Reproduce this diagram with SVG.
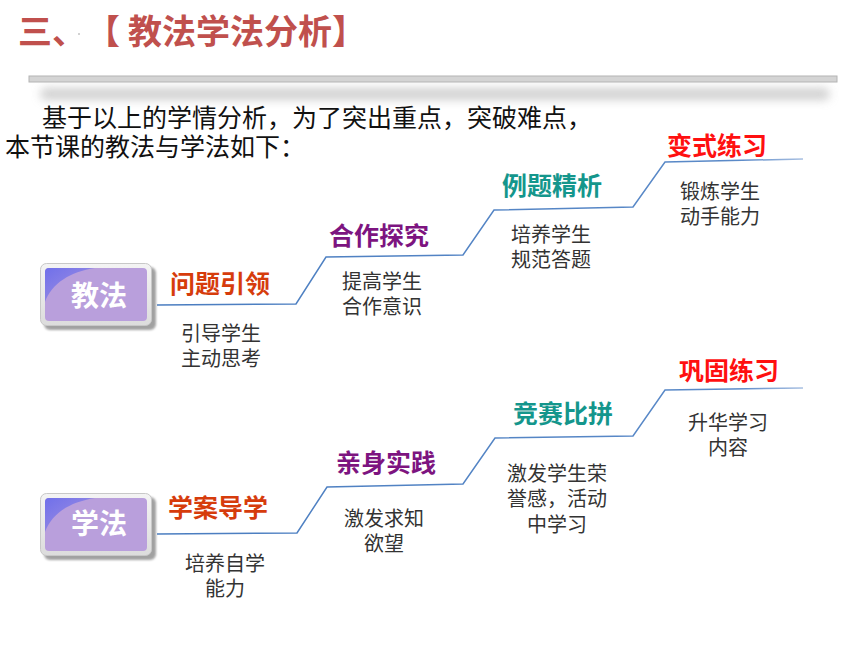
<svg xmlns="http://www.w3.org/2000/svg" width="860" height="645" viewBox="0 0 860 645">
  <defs>
    <filter id="blur" x="-5%" y="-100%" width="110%" height="300%">
      <feGaussianBlur stdDeviation="5"/>
    </filter>
    <filter id="sh" x="-10%" y="-10%" width="130%" height="130%">
      <feGaussianBlur stdDeviation="1.2"/>
    </filter>
    <linearGradient id="frame" x1="0" y1="0" x2="0" y2="1">
      <stop offset="0" stop-color="#f4f4f4"/>
      <stop offset="1" stop-color="#dcdcdc"/>
    </linearGradient>
    <linearGradient id="gloss" x1="0" y1="0" x2="1" y2="1">
      <stop offset="0" stop-color="#7070ea"/>
      <stop offset="1" stop-color="#a795e0"/>
    </linearGradient>
    <linearGradient id="wire" x1="0" y1="0" x2="1" y2="0">
      <stop offset="0" stop-color="#4a7dc0"/>
      <stop offset="0.9" stop-color="#5b8ac8"/>
      <stop offset="1" stop-color="#a9c0e2"/>
    </linearGradient>
  </defs>
  <style>
    .title{font-family:"Noto Sans CJK SC","Liberation Sans",sans-serif;font-weight:700;font-size:34px;fill:#c0504d}
    .intro{font-family:"Noto Sans CJK SC","Liberation Sans",sans-serif;font-size:25px;fill:#111}
    .head{font-family:"Noto Sans CJK SC","Liberation Sans",sans-serif;font-weight:700;font-size:25px;text-anchor:middle}
    .sub{font-family:"Noto Sans CJK SC","Liberation Sans",sans-serif;font-size:20px;fill:#333;text-anchor:middle}
    .btn{font-family:"Noto Sans CJK SC","Liberation Sans",sans-serif;font-weight:700;font-size:28px;fill:#ffffff;text-anchor:middle}
    .orange{fill:#d63c0c}
    .purple{fill:#7d1480}
    .teal{fill:#14968c}
    .red{fill:#ff1010}
    .conn{fill:none;stroke:url(#wire);stroke-width:1.5}
  </style>

  <rect width="860" height="645" fill="#ffffff"/>

  <!-- title -->
  <g id="title">
    <text class="title" x="18" y="44">三、<tspan x="86">【</tspan><tspan x="128">教法学法分析】</tspan></text>
    <circle cx="79" cy="34" r="0.8" fill="#999"/>
  </g>

  <!-- divider bar -->
  <g id="divider">
    <rect x="40" y="88" width="790" height="12" rx="6" fill="#bdbdbd" opacity="0.7" filter="url(#blur)"/>
    <rect x="29" y="76" width="808" height="6" fill="#d4d4d4" stroke="#b4b4b4" stroke-width="1"/>
  </g>

  <!-- intro -->
  <g id="intro">
    <text class="intro" x="42" y="127">基于以上的学情分析，为了突出重点，突破难点，<tspan x="5" y="156">本节课的教法与学法如下：</tspan></text>
  </g>

  <!-- connectors -->
  <g id="connectors">
    <path class="conn" d="M157,305 L296,304 L326,257 L463,255 L494,210 L633,207 L665,162 L803,159"/>
    <path class="conn" d="M157,534 L297,533 L327,487 L463,484 L495,438 L633,436 L665,390 L803,388"/>
  </g>

  <!-- button 教法 -->
  <g id="btn-jiaofa">
    <rect x="44" y="267" width="112" height="63" rx="6" fill="#8a8a8a" opacity="0.8" filter="url(#sh)"/>
    <rect x="40.5" y="263.5" width="111" height="62" rx="6" fill="url(#frame)" stroke="#c8c8c8"/>
    <rect x="45" y="268" width="102" height="53" rx="4" fill="#b99fdc"/>
    <path d="M49,268 L95,268 C70,272 52,283 45,302 L45,272 Q45,268 49,268 Z" fill="url(#gloss)"/>
    <text class="btn" x="99" y="306">教法</text>
  </g>

  <!-- button 学法 -->
  <g id="btn-xuefa">
    <rect x="44" y="497" width="112" height="63" rx="6" fill="#8a8a8a" opacity="0.8" filter="url(#sh)"/>
    <rect x="40.5" y="493.5" width="111" height="62" rx="6" fill="url(#frame)" stroke="#c8c8c8"/>
    <rect x="45" y="498" width="102" height="53" rx="4" fill="#b99fdc"/>
    <path d="M49,498 L95,498 C70,502 52,513 45,532 L45,502 Q45,498 49,498 Z" fill="url(#gloss)"/>
    <text class="btn" x="99" y="534">学法</text>
  </g>

  <!-- 教法 branch -->
  <g id="n-wenti">
    <text class="head orange" x="220" y="293">问题引领</text>
    <text class="sub" x="221" y="341">引导学生<tspan x="221" y="366">主动思考</tspan></text>
  </g>
  <g id="n-hezuo">
    <text class="head purple" x="379" y="245">合作探究</text>
    <text class="sub" x="382" y="289">提高学生<tspan x="382" y="314">合作意识</tspan></text>
  </g>
  <g id="n-liti">
    <text class="head teal" x="552" y="195">例题精析</text>
    <text class="sub" x="551" y="242">培养学生<tspan x="551" y="267">规范答题</tspan></text>
  </g>
  <g id="n-bianshi">
    <text class="head red" x="717" y="155">变式练习</text>
    <text class="sub" x="720" y="199">锻炼学生<tspan x="720" y="224">动手能力</tspan></text>
  </g>

  <!-- 学法 branch -->
  <g id="n-xuean">
    <text class="head orange" x="218" y="517">学案导学</text>
    <text class="sub" x="225" y="571">培养自学<tspan x="225" y="596">能力</tspan></text>
  </g>
  <g id="n-qinshen">
    <text class="head purple" x="386" y="472">亲身实践</text>
    <text class="sub" x="384" y="526">激发求知<tspan x="384" y="551">欲望</tspan></text>
  </g>
  <g id="n-jingsai">
    <text class="head teal" x="563" y="423">竞赛比拼</text>
    <text class="sub" x="557" y="481">激发学生荣<tspan x="557" y="506">誉感，活动</tspan><tspan x="557" y="532">中学习</tspan></text>
  </g>
  <g id="n-gonggu">
    <text class="head red" x="729" y="380">巩固练习</text>
    <text class="sub" x="728" y="430">升华学习<tspan x="728" y="455">内容</tspan></text>
  </g>
</svg>
